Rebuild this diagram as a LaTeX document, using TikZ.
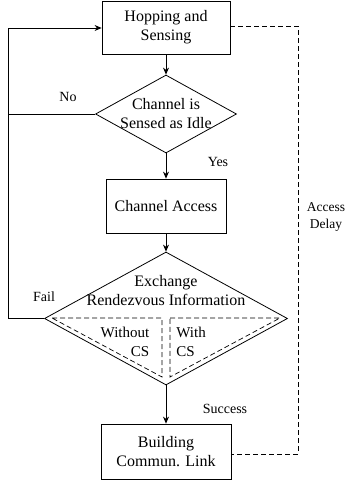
\documentclass[tikz,border=0pt]{standalone}
\usepackage{fontspec}
\setmainfont{Liberation Serif}
\usetikzlibrary{shapes.geometric,arrows.meta}
\begin{document}
\begin{tikzpicture}[x=1pt,y=-1pt,line width=0.8pt,
  box/.style={draw,rectangle,inner sep=0pt,align=center,font=\fontsize{16}{19}\selectfont},
  dia/.style={draw,diamond,inner sep=0pt},
  txt/.style={align=center,font=\fontsize{16}{19}\selectfont,inner sep=0pt},
  lab/.style={font=\fontsize{14}{18}\selectfont,inner sep=0pt},
  arr/.style={-{Stealth[length=7pt,width=6pt]}},
  dsh/.style={dash pattern=on 5pt off 3pt,line width=0.7pt}]
\useasboundingbox (0,0) rectangle (347,485);
\node[box,minimum width=128pt,minimum height=53pt] (b1) at (166,27.5) {Hopping and\\Sensing};
\node[dia,minimum width=141pt,minimum height=78pt] (d1) at (166,114) {};
\node[txt] (t1) at (166,114) {Channel is\\Sensed as Idle};
\node[box,minimum width=120pt,minimum height=54pt] (b2) at (166,206) {Channel Access};
\node[dia,minimum width=243pt,minimum height=133pt] (d2) at (166,318.5) {};
\node[txt] (t2) at (166,291) {Exchange\\Rendezvous Information};
\node[box,minimum width=130pt,minimum height=55pt] (b3) at (166,451.5) {Building\\Commun. Link};
% inner dashed triangles
\coordinate (il) at (52,318);
\coordinate (im1) at (162,318);
\coordinate (ib1) at (162,377);
\coordinate (im2) at (170,318);
\coordinate (ib2) at (170,377);
\coordinate (ir) at (280,318);
\draw[dsh] (il) -- (im1) -- (ib1) -- cycle;
\draw[dsh] (im2) -- (ir) -- (ib2) -- cycle;
\node[lab,align=right,font=\fontsize{15}{19}\selectfont] (wo) at (125,341.5) {Without\\CS};
\node[lab,align=left,font=\fontsize{15}{19}\selectfont,anchor=west] (wi) at (176,341.5) {With\\CS};
% labels
\node[lab] (no) at (68,97) {No};
\node[lab] (yes) at (218,162) {Yes};
\node[lab] (fail) at (44,297) {Fail};
\node[lab] (succ) at (225,409) {Success};
\node[lab,align=center,font=\fontsize{13.5}{17.5}\selectfont] (ad) at (326,217) {Access\\Delay};
% connectors
\draw[arr] (b1.south) -- (d1.north);
\draw[arr] (d1.south) -- (b2.north);
\draw[arr] (b2.south) -- (d2.north);
\draw[arr] (d2.south) -- (b3.north);
\coordinate (lt) at (8,28);
\draw (d1.west) -- (d1.west -| lt);
\draw[arr] (d2.west) -- (d2.west -| lt) -- (lt) -- (lt -| b1.west);
\coordinate (ar) at (298,26);
\coordinate (ab) at (298,454);
\draw[dsh] (b1.east |- ar) -- (ar) -- (ab) -- (ab -| b3.east);
\end{tikzpicture}
\end{document}
